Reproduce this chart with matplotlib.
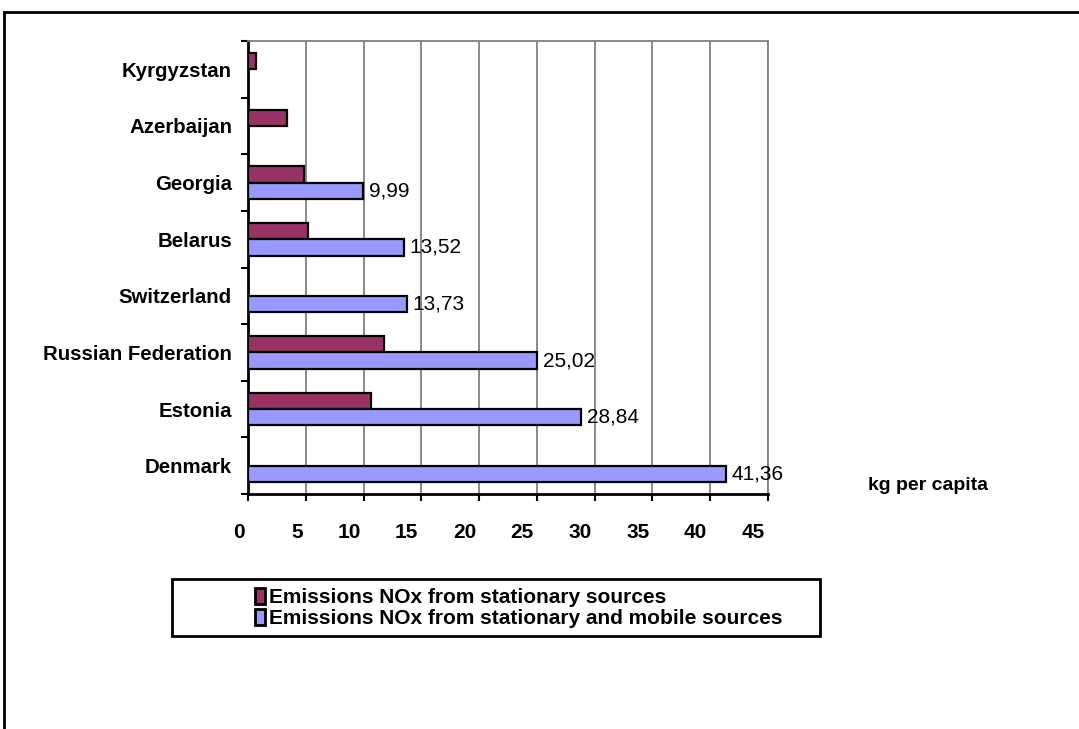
import numpy as np
import matplotlib
matplotlib.use("Agg")
import matplotlib.pyplot as plt
import matplotlib.patches as mpatches
from matplotlib.transforms import ScaledTranslation

# Data (bottom to top)
countries = ["Denmark", "Estonia", "Russian Federation", "Switzerland",
             "Belarus", "Georgia", "Azerbaijan", "Kyrgyzstan"]
stationary = [np.nan, 10.65, 11.8, np.nan, 5.2, 4.85, 3.4, 0.7]
stationary_mobile = [41.36, 28.84, 25.02, 13.73, 13.52, 9.99, np.nan, np.nan]
x_ticks = [0, 5, 10, 15, 20, 25, 30, 35, 40, 45]
series_labels = ["Emissions NOx from stationary sources",
                 "Emissions NOx from stationary and mobile sources"]
unit_label = "kg per capita"

plt.rcParams["font.family"] = ["Liberation Sans", "DejaVu Sans"]

W, H = 1079, 729
fig = plt.figure(figsize=(W / 100, H / 100), dpi=100)
fig.patch.set_facecolor("white")

def fx(px):
    return px / W

def fy(py):
    return 1 - py / H

ax = fig.add_axes([fx(248), fy(494), fx(768) - fx(248), fy(41) - fy(494)])

maroon = "#993366"
lilac = "#9999FF"
bar_h = 0.29
ypos = np.arange(len(countries))

ax.barh(ypos + bar_h / 2, stationary, height=bar_h, color=maroon,
        edgecolor="black", linewidth=1.6, zorder=3)
ax.barh(ypos - bar_h / 2, stationary_mobile, height=bar_h, color=lilac,
        edgecolor="black", linewidth=1.6, zorder=3)

for y, v in zip(ypos, stationary_mobile):
    if not np.isnan(v):
        ax.annotate(f"{v:.2f}".replace(".", ","), xy=(v, y - bar_h / 2),
                    xytext=(4, 0), textcoords="offset points",
                    ha="left", va="center", fontsize=15, color="black",
                    zorder=4)

ax.set_xlim(0, 45)
ax.set_ylim(-0.5, len(countries) - 0.5)

# vertical gridlines
ax.set_xticks(x_ticks)
ax.grid(axis="x", color="#808080", linewidth=1.3, zorder=0)
ax.set_axisbelow(True)

# x tick labels sit slightly left of their ticks
ax.tick_params(axis="x", direction="out", length=5, width=1.5, color="black",
               pad=16, labelsize=15)
ax.set_xticklabels([str(t) for t in x_ticks], fontweight="bold", ha="right")
offset = ScaledTranslation(-3 / 100, 0, fig.dpi_scale_trans)
for lbl in ax.get_xticklabels():
    lbl.set_transform(lbl.get_transform() + offset)

# y ticks at category boundaries, labels at category centres
ax.set_yticks(np.arange(-0.5, len(countries), 1.0))
ax.set_yticklabels([])
ax.tick_params(axis="y", which="major", direction="out", length=5, width=1.5)
ax.set_yticks(ypos, minor=True)
ax.set_yticklabels(countries, minor=True, fontweight="bold", fontsize=14.7)
ax.tick_params(axis="y", which="minor", length=0, pad=11.5)

for side in ("left", "bottom"):
    ax.spines[side].set_color("black")
    ax.spines[side].set_linewidth(2)
for side in ("top", "right"):
    ax.spines[side].set_color("#808080")
    ax.spines[side].set_linewidth(1.3)

fig.text(fx(928), fy(485), unit_label, ha="center", va="center",
         fontsize=14, fontweight="bold")

# legend box
fig.patches.append(mpatches.Rectangle((fx(172), fy(636)), fx(820) - fx(172),
                                      fy(579) - fy(636), transform=fig.transFigure,
                                      facecolor="white", edgecolor="black",
                                      linewidth=2, zorder=1))
handles = [mpatches.Patch(facecolor=maroon, edgecolor="black", linewidth=2),
           mpatches.Patch(facecolor=lilac, edgecolor="black", linewidth=2)]
leg = fig.legend(handles, series_labels, loc="center left",
                 bbox_to_anchor=(fx(255), fy(608)), frameon=False,
                 prop={"weight": "bold", "size": 15},
                 handlelength=0.5, handleheight=0.8, handletextpad=0.15,
                 labelspacing=0.1, borderpad=0, borderaxespad=0)
leg.set_zorder(2)

# outer frame
fig.patches.append(mpatches.Rectangle((fx(4), -0.1), 1.2, fy(12) + 0.1,
                                      transform=fig.transFigure, facecolor="none",
                                      edgecolor="black", linewidth=2, zorder=0))

fig.savefig("out.png", dpi=100)
